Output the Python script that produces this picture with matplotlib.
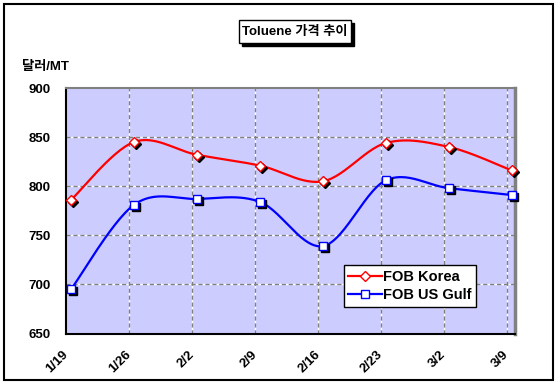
import numpy as np
import matplotlib
matplotlib.use("Agg")
import matplotlib.pyplot as plt
from matplotlib.patches import Rectangle
from matplotlib.transforms import offset_copy, ScaledTranslation

dates = ["1/19", "1/26", "2/2", "2/9", "2/16", "2/23", "3/2", "3/9"]
fob_korea = [786, 845, 832, 821, 805, 844, 840, 816]
fob_usgulf = [695, 781, 787, 784, 739, 806, 798, 791]
y_ticks = [650, 700, 750, 800, 850, 900]
title = "Toluene 가격 추이"
ylabel = "달러/MT"

FONT = ["Liberation Sans", "Noto Sans CJK KR", "DejaVu Sans"]
plt.rcParams["font.family"] = FONT


def excel_smooth(x, y, n=30):
    x = np.asarray(x, float)
    y = np.asarray(y, float)
    px = np.concatenate([[x[0]], x, [x[-1]]])
    py = np.concatenate([[y[0]], y, [y[-1]]])
    xs, ys = [], []
    t = np.linspace(0, 1, n)
    for i in range(len(x) - 1):
        p0 = np.array([px[i + 1], py[i + 1]])
        p3 = np.array([px[i + 2], py[i + 2]])
        c1 = p0 + (np.array([px[i + 2], py[i + 2]]) - np.array([px[i], py[i]])) / 6
        c2 = p3 - (np.array([px[i + 3], py[i + 3]]) - np.array([px[i + 1], py[i + 1]])) / 6
        b = ((1 - t) ** 3)[:, None] * p0 + (3 * (1 - t) ** 2 * t)[:, None] * c1 \
            + (3 * (1 - t) * t ** 2)[:, None] * c2 + (t ** 3)[:, None] * p3
        xs.extend(b[:, 0])
        ys.extend(b[:, 1])
    return np.array(xs), np.array(ys)


fig = plt.figure(figsize=(5.6, 3.85), dpi=100)
W, H = 560, 385

# outer border
fig.patches.append(Rectangle((4 / W, 1 - 380 / H), 549 / W, 376 / H, transform=fig.transFigure,
                             fill=False, ec="black", lw=1.5))

ax = fig.add_axes([66 / W, 1 - 333.5 / H, 449 / W, 245.5 / H])
ax.set_facecolor("#CCCCFF")

cat = np.arange(len(dates))
xd = cat + 0.08

ax.set_xlim(0, 7.13)
ax.set_ylim(650, 900)
ax.set_yticks(y_ticks)
ax.set_xticks(cat)
ax.set_xticklabels(dates, rotation=45, ha="right", va="top", rotation_mode="anchor",
                   fontsize=9.5, fontweight="bold")
ax.set_yticklabels([str(v) for v in y_ticks], fontsize=9.5, fontweight="bold")
ax.tick_params(axis="both", length=0)
ax.tick_params(axis="y", pad=11)
ax.tick_params(axis="x", pad=11)
for lbl in ax.get_xticklabels():
    lbl.set_transform(lbl.get_transform() + ScaledTranslation(-4 / 100, 0, fig.dpi_scale_trans))

# gridlines: white base, gray dashes
for yv in y_ticks[1:-1]:
    ax.axhline(yv, color="white", lw=1, zorder=1)
    ax.axhline(yv, color="#808080", lw=1, ls=(0, (3, 2)), zorder=1.1)
for xv in cat[1:]:
    ax.axvline(xv, color="white", lw=1, zorder=1)
    ax.axvline(xv, color="#808080", lw=1, ls=(0, (3, 2)), zorder=1.1)

shadow_tr = offset_copy(ax.transData, fig=fig, x=2, y=-2, units="dots")

for vals, col, mk, ms, lab in [(fob_korea, "#FF0000", "D", 5.5, "FOB Korea"),
                               (fob_usgulf, "#0000FF", "s", 6, "FOB US Gulf")]:
    sx, sy = excel_smooth(xd, vals)
    ax.plot(sx, sy, color=col, lw=1.6, zorder=3, clip_on=False)
    ax.plot(xd, vals, ls="none", marker=mk, ms=ms, mfc="black", mec="black", mew=1,
            transform=shadow_tr, zorder=3.5, clip_on=False)
    ax.plot(xd, vals, ls="none", marker=mk, ms=ms, mfc="white", mec=col, mew=1,
            zorder=4, clip_on=False)
    ax.plot([], [], color=col, lw=1.6, marker=mk, ms=ms, mfc="white", mec=col, mew=1, label=lab)

for s in ["left", "bottom"]:
    ax.spines[s].set_color("black")
    ax.spines[s].set_linewidth(1.5)
ax.spines["top"].set_color("#808080")
ax.spines["top"].set_linewidth(1.5)
ax.spines["right"].set_color("#808080")
ax.spines["right"].set_linewidth(2.5)

leg = ax.legend(loc="upper left", bbox_to_anchor=(0.619, 0.277), fancybox=False,
                edgecolor="black", framealpha=1, borderpad=0.3, labelspacing=0.3,
                handlelength=2.3, handletextpad=0.1, borderaxespad=0,
                prop={"weight": "bold", "size": 10.5})
leg.get_frame().set_linewidth(1)
leg.set_zorder(6)

# title box with shadow
bx0, bx1, by0, by1 = 239, 351, 20, 43
fig.patches.append(Rectangle(((bx0 + 3) / W, 1 - (by1 + 3) / H), (bx1 - bx0) / W, (by1 - by0) / H,
                             transform=fig.transFigure, fc="black", ec="black", lw=1, zorder=1))
fig.patches.append(Rectangle((bx0 / W, 1 - by1 / H), (bx1 - bx0) / W, (by1 - by0) / H,
                             transform=fig.transFigure, fc="white", ec="black", lw=1, zorder=2))
fig.text((bx0 + bx1) / 2 / W, 1 - (by0 + by1) / 2 / H, title, ha="center", va="center",
         fontsize=9.5, fontweight="bold", color="black", zorder=3)

fig.text(22 / W, 1 - 67 / H, ylabel, ha="left", va="center", fontsize=9.5, fontweight="bold")

fig.savefig("out.png", dpi=100)
